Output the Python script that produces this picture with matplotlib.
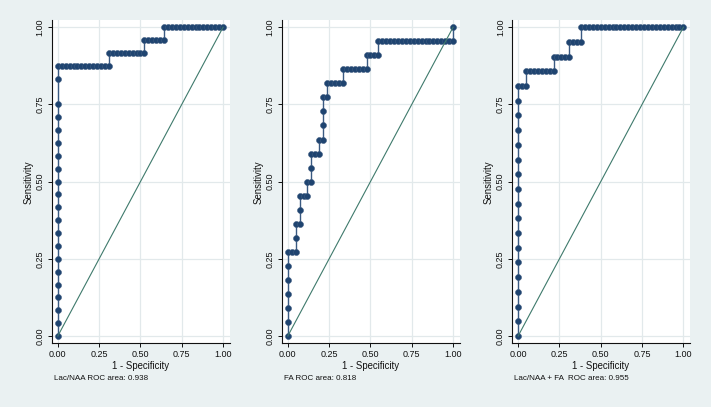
import numpy as np
import matplotlib
matplotlib.use("Agg")
import matplotlib.pyplot as plt

plt.rcParams['font.family'] = ['Liberation Sans', 'DejaVu Sans']

# observations ordered by decreasing score, one group per distinct cut-off
# P = diseased (positive), N = not diseased; "PP" = tied pair
lacnaa_groups = ["P"] * 18 + ["PP", "P"] + ["N"] * 13 + ["P"] + ["N"] * 9 + ["P"] + ["N"] * 5 + ["P"] + ["N"] * 15
fa_groups = (["P"] * 6 + ["N"] * 2 + ["P", "P", "N", "P", "P", "N", "N", "P", "N", "P", "P", "N", "N", "P", "N",
                                      "P", "P", "P", "N", "P"] + ["N"] * 4 + ["P"] + ["N"] * 6 + ["P"] + ["N"] * 3
             + ["P"] + ["N"] * 19 + ["P"])
combo_groups = ["P"] * 17 + ["N"] * 2 + ["P"] + ["N"] * 7 + ["P"] + ["N"] * 4 + ["P"] + ["N"] * 3 + ["P"] + ["N"] * 26

panel_groups = [lacnaa_groups, fa_groups, combo_groups]
panel_notes = ["Lac/NAA ROC area: 0.938", "FA ROC area: 0.818", "Lac/NAA + FA  ROC area: 0.955"]

ticks = [0.0, 0.25, 0.5, 0.75, 1.0]
tick_labels = ["0.00", "0.25", "0.50", "0.75", "1.00"]
diag = [0.0, 1.0]

navy = "#1f4470"
green = "#3f7a6c"
bg = "#EAF1F2"


def roc_points(groups):
    pos = np.array([0] + [g.count("P") for g in groups])
    neg = np.array([0] + [g.count("N") for g in groups])
    tp = np.cumsum(pos)
    fp = np.cumsum(neg)
    return fp / fp[-1], tp / tp[-1]


W, H = 711, 407
fig = plt.figure(figsize=(W / 100, H / 100), dpi=100, facecolor=bg)

lefts = [51.7, 281.7, 512.0]
ax_w = 178.0
ax_top, ax_bot = 19.5, 343.3

for i, left in enumerate(lefts):
    ax = fig.add_axes([left / W, 1 - ax_bot / H, ax_w / W, (ax_bot - ax_top) / H])
    ax.set_facecolor("white")
    fpr, tpr = roc_points(panel_groups[i])

    ax.plot(fpr, tpr, "-", color="#3a5a82", lw=1.0, zorder=3)
    ax.plot(fpr, tpr, "o", color=navy, ms=4.3, mec="#3d5b80", mew=0.4, zorder=4)
    ax.plot(diag, diag, "-", color=green, lw=0.8, zorder=5)

    ax.set_xlim(-0.037, 1.04)
    ax.set_ylim(-0.0236, 1.025)
    ax.set_xticks(ticks)
    ax.set_xticklabels(tick_labels, fontsize=6.5)
    ax.set_yticks(ticks)
    ax.set_yticklabels(tick_labels, fontsize=6.5, rotation=90, va="center")
    ax.tick_params(axis="x", length=3.1, width=0.7, pad=1.6, colors="#111111")
    ax.tick_params(axis="y", length=3.1, width=0.7, pad=2.0, colors="#111111")
    ax.grid(True, color="#E2E9EB", lw=0.9, zorder=0)
    ax.set_axisbelow(True)
    for s in ["top", "right"]:
        ax.spines[s].set_visible(False)
    for s in ["left", "bottom"]:
        ax.spines[s].set_linewidth(0.8)
        ax.spines[s].set_color("#111111")

    cx = left + ax_w / 2
    fig.text(cx / W, 1 - 365.7 / H, "1 - Specificity", fontsize=6.9, ha="center", va="center", color="#111111")
    fig.text((left - 23.4) / W, 1 - 182 / H, "Sensitivity", fontsize=6.9, rotation=90,
             ha="center", va="center", color="#111111")
    fig.text((left + 1.8) / W, 1 - 379 / H, panel_notes[i], fontsize=5.8, ha="left", va="center", color="#111111")

fig.savefig("out.png", dpi=100, facecolor=bg)
